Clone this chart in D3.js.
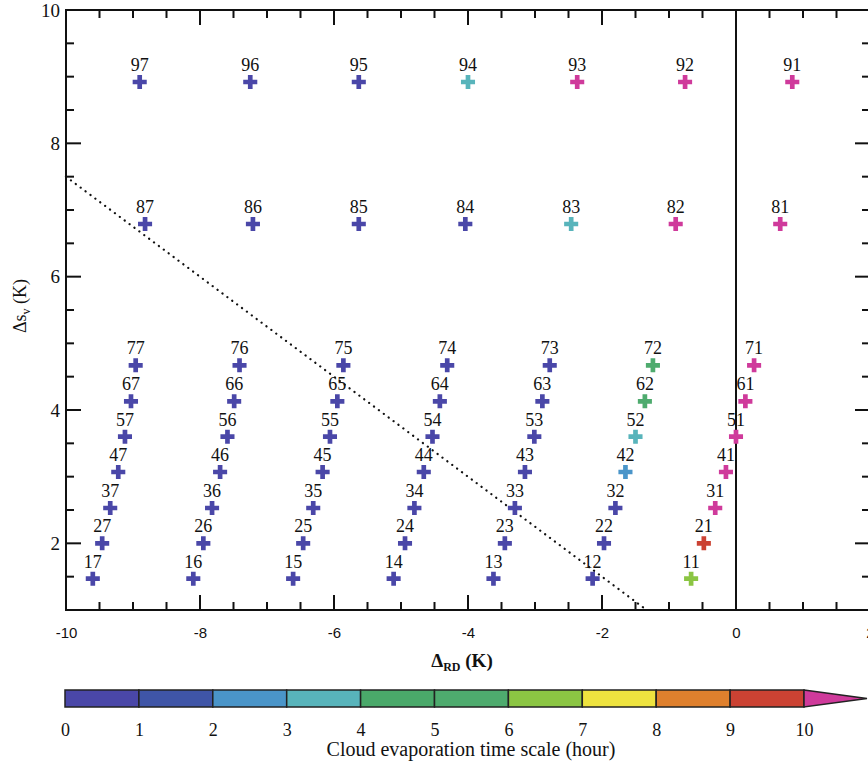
<!DOCTYPE html>
<html>
<head>
<meta charset="utf-8">
<script src="https://cdn.jsdelivr.net/npm/d3@7"></script>
<style>
  html, body { margin: 0; padding: 0; background: #ffffff; }
  svg { display: block; }
</style>
</head>
<body>
<svg id="chart" width="868" height="762"></svg>
<script>
// ---------- data ----------
const caseIds = [
  97, 96, 95, 94, 93, 92, 91,
  87, 86, 85, 84, 83, 82, 81,
  77, 76, 75, 74, 73, 72, 71,
  67, 66, 65, 64, 63, 62, 61,
  57, 56, 55, 54, 53, 52, 51,
  47, 46, 45, 44, 43, 42, 41,
  37, 36, 35, 34, 33, 32, 31,
  27, 26, 25, 24, 23, 22, 21,
  17, 16, 15, 14, 13, 12, 11
];
const deltaRD = [
  -8.90, -7.25, -5.63, -4.00, -2.37, -0.76, 0.84,
  -8.82, -7.21, -5.63, -4.04, -2.46, -0.90, 0.66,
  -8.96, -7.41, -5.86, -4.31, -2.78, -1.24, 0.27,
  -9.03, -7.49, -5.95, -4.42, -2.89, -1.36, 0.14,
  -9.12, -7.59, -6.06, -4.53, -3.01, -1.50, 0.00,
  -9.22, -7.70, -6.17, -4.66, -3.15, -1.65, -0.15,
  -9.34, -7.82, -6.31, -4.80, -3.30, -1.80, -0.31,
  -9.46, -7.95, -6.46, -4.94, -3.45, -1.97, -0.48,
  -9.60, -8.10, -6.61, -5.11, -3.62, -2.14, -0.67
];
const deltaSv = [
  8.92, 8.92, 8.92, 8.92, 8.92, 8.92, 8.92,
  6.79, 6.79, 6.79, 6.79, 6.79, 6.79, 6.79,
  4.67, 4.67, 4.67, 4.67, 4.67, 4.67, 4.67,
  4.13, 4.13, 4.13, 4.13, 4.13, 4.13, 4.13,
  3.60, 3.60, 3.60, 3.60, 3.60, 3.60, 3.60,
  3.07, 3.07, 3.07, 3.07, 3.07, 3.07, 3.07,
  2.53, 2.53, 2.53, 2.53, 2.53, 2.53, 2.53,
  2.00, 2.00, 2.00, 2.00, 2.00, 2.00, 2.00,
  1.47, 1.47, 1.47, 1.47, 1.47, 1.47, 1.47
];
// cloud evaporation time scale (hours); >10 drawn with the arrow colour
const evapHours = [
  0.8, 0.8, 0.8, 3.5, 12, 12, 12,
  0.8, 0.8, 0.8, 0.8, 3.5, 12, 12,
  0.8, 0.8, 0.8, 0.8, 0.8, 5.5, 12,
  0.8, 0.8, 0.8, 0.8, 0.8, 5.5, 12,
  0.8, 0.8, 0.8, 0.8, 0.8, 3.5, 12,
  0.8, 0.8, 0.8, 0.8, 0.8, 2.5, 12,
  0.8, 0.8, 0.8, 0.8, 0.8, 0.8, 12,
  0.8, 0.8, 0.8, 0.8, 0.8, 0.8, 9.5,
  0.8, 0.8, 0.8, 0.8, 0.8, 0.8, 6.5
];
// reference (dotted) line endpoints: ΔSv = -0.75 ΔRD
const refLineX = [-10, -1.333];
const refLineY = [7.5, 1.0];

const colorBounds = [0, 1, 2, 3, 4, 5, 6, 7, 8, 9, 10];
const colorBins = ["#4a47a8", "#3f55a7", "#4a95c9", "#58b4bb", "#4aa96a",
                   "#4eab6e", "#8bc543", "#eee33f", "#df802d", "#cb4233"];
const overColor = "#cf3a9b";
const xTicks = [-10, -8, -6, -4, -2, 0, 2];
const yTicks = [2, 4, 6, 8, 10];

// ---------- layout ----------
const svg = d3.select("#chart");
const x = d3.scaleLinear().domain([-10, 2]).range([66, 870]);
const y = d3.scaleLinear().domain([1, 10]).range([610, 10]);
const color = d3.scaleThreshold()
  .domain(colorBounds.slice(1))
  .range(colorBins.concat([overColor]));

const serif = "'Liberation Serif', 'Times New Roman', serif";
const sans = "'Liberation Sans', Arial, sans-serif";

const plot = svg.append("g");

// minor ticks
const minorX = d3.range(-10, 2.01, 0.5);
const minorY = d3.range(1, 10.01, 0.5);
const tickG = plot.append("g").attr("stroke", "#111").attr("stroke-width", 2);
minorX.forEach(v => {
  const major = Math.abs(v % 2) < 1e-9;
  const L = major ? 15 : 8;
  tickG.append("line").attr("x1", x(v)).attr("x2", x(v)).attr("y1", y(1)).attr("y2", y(1) - L);
  tickG.append("line").attr("x1", x(v)).attr("x2", x(v)).attr("y1", y(10)).attr("y2", y(10) + L);
});
minorY.forEach(v => {
  const major = Math.abs(v % 2) < 1e-9;
  const L = major ? 15 : 8;
  tickG.append("line").attr("x1", x(-10)).attr("x2", x(-10) + L).attr("y1", y(v)).attr("y2", y(v));
  tickG.append("line").attr("x1", x(2)).attr("x2", x(2) - L).attr("y1", y(v)).attr("y2", y(v));
});

// axes via d3 (labels only; frame drawn separately)
const xAxis = d3.axisBottom(x).tickValues(xTicks).tickSize(0).tickPadding(17).tickFormat(d3.format("d"));
const gx = plot.append("g").attr("transform", `translate(0,${y(1)})`).call(xAxis);
gx.select(".domain").remove();
gx.selectAll("text").attr("font-family", sans).attr("font-size", 15).attr("fill", "#111")
  .text(d => d < 0 ? "-" + Math.abs(d) : d);

const yAxis = d3.axisLeft(y).tickValues(yTicks).tickSize(0).tickPadding(6);
const gy = plot.append("g").attr("transform", `translate(${x(-10)},0)`).call(yAxis);
gy.select(".domain").remove();
gy.selectAll("text").attr("font-family", serif).attr("font-size", 19).attr("fill", "#111");

// frame
plot.append("rect")
  .attr("x", x(-10)).attr("y", y(10))
  .attr("width", x(2) - x(-10)).attr("height", y(1) - y(10))
  .attr("fill", "none").attr("stroke", "#111").attr("stroke-width", 2);

// vertical zero line
plot.append("line")
  .attr("x1", x(0)).attr("x2", x(0)).attr("y1", y(10)).attr("y2", y(1))
  .attr("stroke", "#111").attr("stroke-width", 2);

// dotted reference line
plot.append("line")
  .attr("x1", x(refLineX[0])).attr("y1", y(refLineY[0]))
  .attr("x2", x(refLineX[1])).attr("y2", y(refLineY[1]))
  .attr("stroke", "#111").attr("stroke-width", 2.2)
  .attr("stroke-dasharray", "0.1 6").attr("stroke-linecap", "round");

// points
const pts = caseIds.map((id, i) => ({ id, rd: deltaRD[i], sv: deltaSv[i], t: evapHours[i] }));
const cross = d3.symbol().type(d3.symbolCross).size(110);
plot.append("g").selectAll("path").data(pts).join("path")
  .attr("d", cross)
  .attr("transform", d => `translate(${x(d.rd)},${y(d.sv)})`)
  .attr("fill", d => color(d.t));

plot.append("g").selectAll("text").data(pts).join("text")
  .attr("x", d => x(d.rd))
  .attr("y", d => y(d.sv) - 11)
  .attr("text-anchor", "middle")
  .attr("font-family", serif).attr("font-size", 18).attr("fill", "#111")
  .text(d => d.id);

// axis titles
const xt = svg.append("text")
  .attr("x", 462).attr("y", 667)
  .attr("text-anchor", "middle")
  .attr("font-family", serif).attr("font-size", 19).attr("font-weight", "bold").attr("fill", "#111");
xt.append("tspan").text("Δ");
xt.append("tspan").attr("font-size", 12).attr("dy", 4).text("RD");
xt.append("tspan").attr("dy", -4).text(" (K)");

const yt = svg.append("text")
  .attr("transform", "translate(26,306) rotate(-90)")
  .attr("text-anchor", "middle")
  .attr("font-family", serif).attr("font-size", 18).attr("fill", "#111");
yt.append("tspan").text("Δs");
yt.append("tspan").attr("font-size", 12).attr("dy", 4).text("v");
yt.append("tspan").attr("dy", -4).text(" (K)");

// ---------- colour bar ----------
const cb = d3.scaleLinear().domain([0, 10]).range([65, 804]);
const cbTop = 690, cbBot = 707;
const cbG = svg.append("g");
cbG.selectAll("rect").data(colorBins).join("rect")
  .attr("x", (d, i) => cb(colorBounds[i]))
  .attr("y", cbTop)
  .attr("width", (d, i) => cb(colorBounds[i + 1]) - cb(colorBounds[i]))
  .attr("height", cbBot - cbTop)
  .attr("fill", d => d)
  .attr("stroke", "#222").attr("stroke-width", 1.5);
cbG.append("path")
  .attr("d", `M${cb(10)},${cbTop} L867,${(cbTop + cbBot) / 2} L${cb(10)},${cbBot} Z`)
  .attr("fill", overColor).attr("stroke", "#222").attr("stroke-width", 1.5);

const cbAxis = d3.axisBottom(cb).tickValues(colorBounds).tickSize(0).tickPadding(12);
const gcb = svg.append("g").attr("transform", `translate(0,${cbBot + 4})`).call(cbAxis);
gcb.select(".domain").remove();
gcb.selectAll("text").attr("font-family", serif).attr("font-size", 18).attr("fill", "#111");

svg.append("text")
  .attr("x", 471).attr("y", 756)
  .attr("text-anchor", "middle")
  .attr("font-family", serif).attr("font-size", 20).attr("fill", "#111")
  .text("Cloud evaporation time scale (hour)");
</script>
</body>
</html>
